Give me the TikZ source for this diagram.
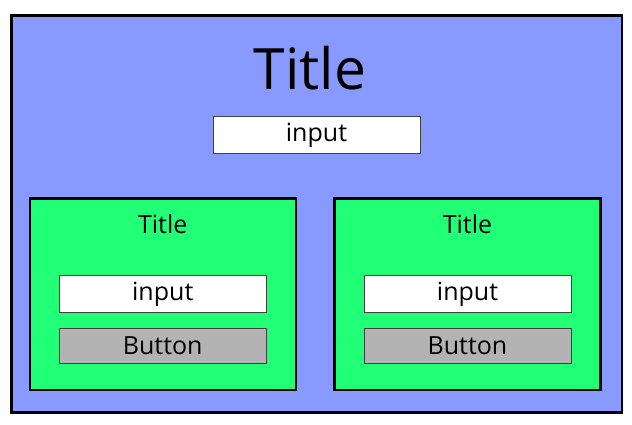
\documentclass[tikz,border=0pt]{standalone}
\usepackage{fontspec}
\setmainfont{Open Sans}
\definecolor{pageblue}{HTML}{8899FF}
\definecolor{cardgreen}{HTML}{20FF76}
\definecolor{buttongray}{HTML}{B3B3B3}
\definecolor{boxline}{HTML}{404040}

\begin{document}
\begin{tikzpicture}[x=1pt, y=-1pt,
    panel/.style={draw=black, line width=2.5pt, inner sep=0pt},
    field/.style={draw=boxline, line width=1pt, fill=white, inner sep=0pt,
        minimum width=207pt, minimum height=37pt, font=\fontsize{25}{30}\selectfont},
    pressbox/.style={field, fill=buttongray, minimum height=35pt},
    label/.style={anchor=base, inner sep=0pt}]
\useasboundingbox (0,0) rectangle (632,424);
\node[panel, fill=pageblue, minimum width=610.5pt, minimum height=397pt] (page) at (316.75,214) {};
\node[label, font=\fontsize{57}{68}\selectfont] (title) at (310,89) {Title};
\node[field] (pageinput) at (316.5,135) {input};

\foreach \name/\x in {leftcard/162.75, rightcard/467.5} {
    \node[panel, fill=cardgreen, minimum width=266pt, minimum height=191.5pt] (\name) at (\x,294.25) {};
    \node[label, font=\fontsize{25}{30}\selectfont] (\name-title) at (\x,233) {Title};
    \node[field] (\name-input) at (\x,294) {input};
    \node[pressbox] (\name-button) at (\x,345.5) {Button};
}
\end{tikzpicture}
\end{document}
